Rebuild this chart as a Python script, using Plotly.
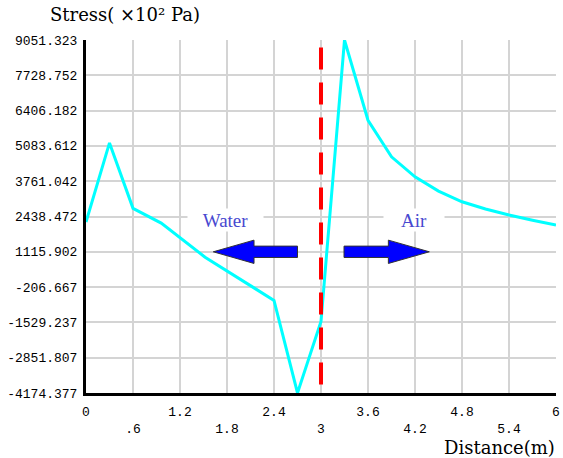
import plotly.graph_objects as go

# ---- data ----
distance = [0.0, 0.3, 0.6, 0.96, 1.52, 2.4, 2.7, 3.0, 3.3, 3.6, 3.9, 4.2, 4.5, 4.8, 5.1, 5.4, 5.7, 6.0]
stress = [2233, 5196, 2745, 2190, 915, -707, -4174, -1492, 9051, 6044, 4673, 3925, 3391, 2991, 2720, 2494, 2300, 2121]

boundary_x = [3.0, 3.0]
boundary_y = [8770, -3950]

y_ticks = [9051.323, 7728.752, 6406.182, 5083.612, 3761.042, 2438.472,
           1115.902, -206.667, -1529.237, -2851.807, -4174.377]
y_labels = ["9051.323", "7728.752", "6406.182", "5083.612", "3761.042", "2438.472",
            "1115.902", "-206.667", "-1529.237", "-2851.807", "-4174.377"]
x_ticks = [0, 0.6, 1.2, 1.8, 2.4, 3.0, 3.6, 4.2, 4.8, 5.4, 6.0]
x_labels = ["0", ".6", "1.2", "1.8", "2.4", "3", "3.6", "4.2", "4.8", "5.4", "6"]

# staggered labels: odd ones on a second row
x_text = [lab if i % 2 == 0 else "\u00a0<br>" + lab for i, lab in enumerate(x_labels)]

fig = go.Figure()
fig.add_trace(go.Scatter(x=distance, y=stress, mode="lines",
                         line=dict(color="#00ffff", width=3), hoverinfo="skip"))
fig.add_trace(go.Scatter(x=boundary_x, y=boundary_y, mode="lines",
                         line=dict(color="#ff0000", width=4, dash="22px,13px"),
                         hoverinfo="skip"))

# block arrows (data coords)
yc = 1116
hh, sh = 437, 213


def left_arrow(tip, base, end):
    return (f"M {tip},{yc} L {base},{yc+hh} L {base},{yc+sh} L {end},{yc+sh} "
            f"L {end},{yc-sh} L {base},{yc-sh} L {base},{yc-hh} Z")


def right_arrow(start, base, tip):
    return (f"M {tip},{yc} L {base},{yc+hh} L {base},{yc+sh} L {start},{yc+sh} "
            f"L {start},{yc-sh} L {base},{yc-sh} L {base},{yc-hh} Z")


shapes = [
    dict(type="path", xref="x", yref="y", path=left_arrow(1.625, 2.145, 2.70),
         fillcolor="#0000ff", line=dict(color="#333333", width=1)),
    dict(type="path", xref="x", yref="y", path=right_arrow(3.294, 3.86, 4.383),
         fillcolor="#0000ff", line=dict(color="#333333", width=1)),
]

annotations = [
    dict(text="Water", x=1.775, y=2308, xref="x", yref="y", showarrow=False,
         font=dict(family="Liberation Serif", size=19, color="#4848d0"),
         bgcolor="white", width=73, height=20),
    dict(text="Air", x=4.19, y=2308, xref="x", yref="y", showarrow=False,
         font=dict(family="Liberation Serif", size=19, color="#4848d0"),
         bgcolor="white", width=58, height=20),
    dict(text="Stress( ×10² Pa)", x=-0.081, y=1 + 25 / 353, xref="paper", yref="paper",
         xanchor="left", yanchor="middle", showarrow=False,
         font=dict(family="DejaVu Serif", size=18, color="black")),
    dict(text="Distance(m)", x=1.003, y=-54 / 353, xref="paper", yref="paper",
         xanchor="right", yanchor="middle", showarrow=False,
         font=dict(family="DejaVu Serif", size=18, color="black")),
]

fig.update_layout(
    width=563, height=458,
    margin=dict(l=86, r=7, t=40, b=65),
    paper_bgcolor="white", plot_bgcolor="white",
    showlegend=False,
    shapes=shapes, annotations=annotations,
    xaxis=dict(range=[0, 6], tickvals=x_ticks, ticktext=x_text,
               showgrid=True, gridcolor="#d4d4d4", gridwidth=1.5,
               showline=True, linecolor="black", linewidth=3,
               ticks="outside", ticklen=4, tickcolor="rgba(0,0,0,0)",
               tickangle=0, automargin=False,
               tickfont=dict(family="Liberation Mono", size=13, color="black"),
               zeroline=False, fixedrange=True),
    yaxis=dict(range=[-4174.377, 9051.323], tickvals=y_ticks, ticktext=y_labels,
               showgrid=True, gridcolor="#d4d4d4", gridwidth=1.5,
               showline=True, linecolor="black", linewidth=3,
               ticks="outside", ticklen=3, tickcolor="rgba(0,0,0,0)",
               automargin=False,
               tickfont=dict(family="Liberation Mono", size=13, color="black"),
               zeroline=False, fixedrange=True),
)

fig.write_html("out.html")
